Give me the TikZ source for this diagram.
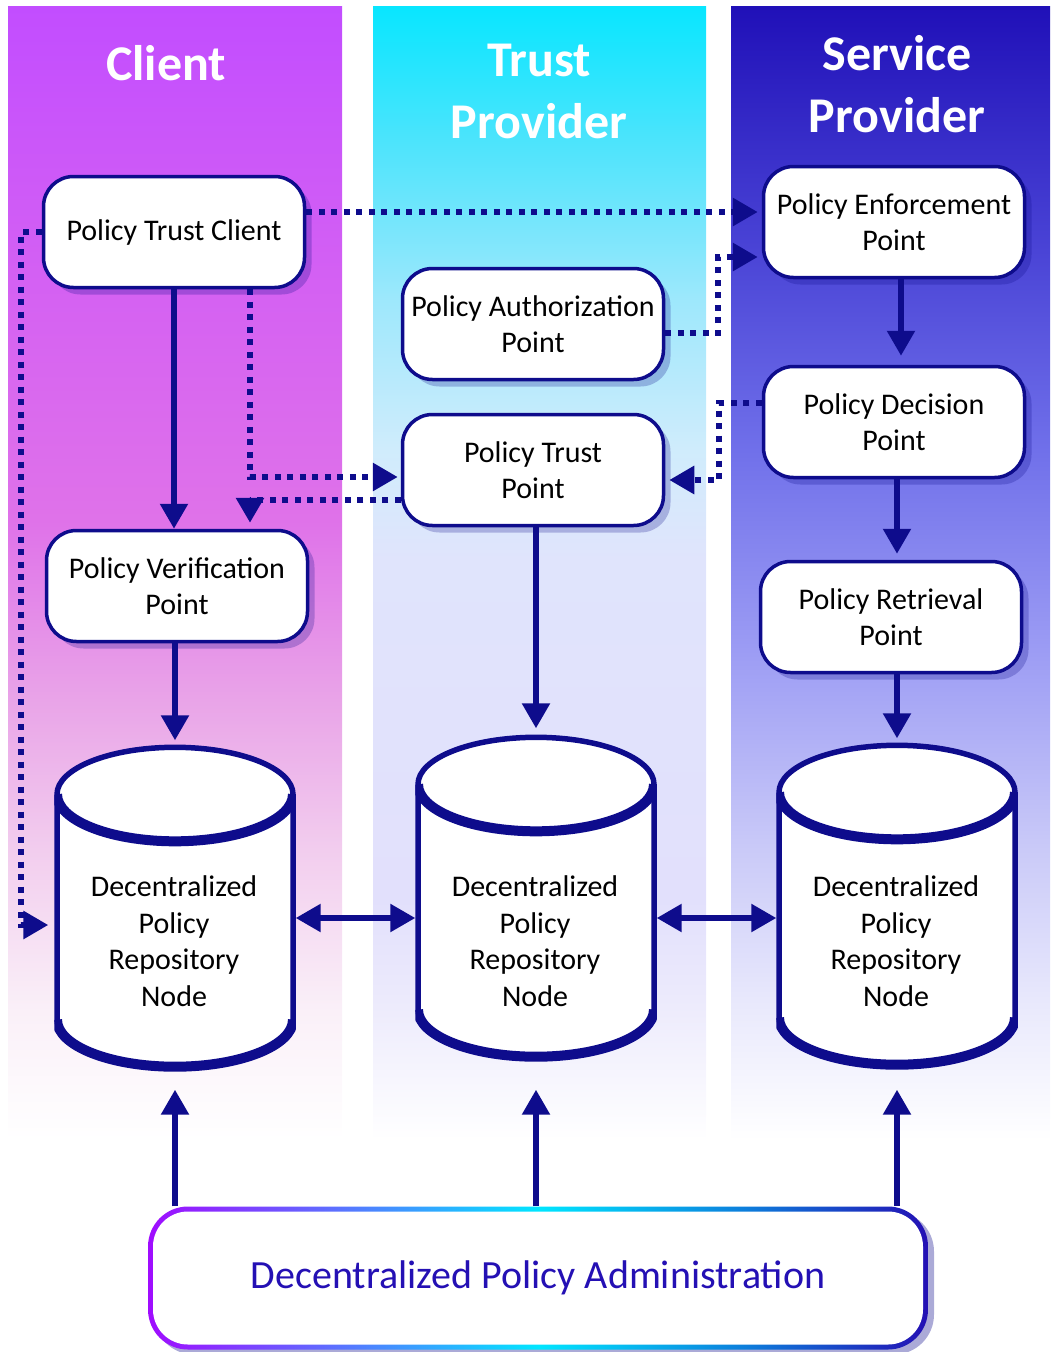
\documentclass[tikz,border=0pt]{standalone}
\usepackage{fontspec}
\setmainfont{Carlito}
\usetikzlibrary{arrows.meta,shadows}

\definecolor{navy}{RGB}{14,12,140}
\definecolor{adminblue}{RGB}{36,16,180}
\definecolor{clA}{RGB}{194,77,255}
\definecolor{clB}{RGB}{213,98,242}
\definecolor{clC}{RGB}{223,114,233}
\definecolor{clD}{RGB}{233,164,232}
\definecolor{clE}{RGB}{242,205,238}
\definecolor{clF}{RGB}{250,240,248}
\definecolor{trA}{RGB}{8,230,255}
\definecolor{trB}{RGB}{80,228,252}
\definecolor{trC}{RGB}{158,232,252}
\definecolor{trD}{RGB}{208,236,252}
\definecolor{trE}{RGB}{224,228,252}
\definecolor{trF}{RGB}{226,224,252}
\definecolor{trG}{RGB}{236,234,252}
\definecolor{svA}{RGB}{32,16,184}
\definecolor{svB}{RGB}{74,68,214}
\definecolor{svC}{RGB}{112,112,234}
\definecolor{svD}{RGB}{156,156,244}
\definecolor{svE}{RGB}{202,202,248}
\definecolor{svF}{RGB}{232,232,252}
\definecolor{rimA}{RGB}{160,12,255}
\definecolor{rimB}{RGB}{92,112,255}
\definecolor{rimC}{RGB}{0,230,255}
\definecolor{rimD}{RGB}{12,128,220}
\definecolor{rimE}{RGB}{36,16,180}

\pgfdeclareverticalshading{clientfade}{100bp}{color(0bp)=(white); color(25bp)=(white);
  color(30.7bp)=(clF); color(37.8bp)=(clE); color(44.4bp)=(clD); color(52.3bp)=(clC);
  color(62bp)=(clB); color(75bp)=(clA); color(100bp)=(clA)}
\pgfdeclareverticalshading{trustfade}{100bp}{color(0bp)=(white); color(25bp)=(white);
  color(31.2bp)=(trG); color(35.6bp)=(trF); color(50.6bp)=(trE); color(55.4bp)=(trD);
  color(62bp)=(trC); color(68.7bp)=(trB); color(75bp)=(trA); color(100bp)=(trA)}
\pgfdeclareverticalshading{servicefade}{100bp}{color(0bp)=(white); color(25bp)=(white);
  color(31.2bp)=(svF); color(37.8bp)=(svE); color(46.6bp)=(svD); color(55.4bp)=(svC);
  color(64.2bp)=(svB); color(75bp)=(svA); color(100bp)=(svA)}
\pgfdeclarehorizontalshading{adminrim}{100bp}{color(0bp)=(rimA); color(25bp)=(rimA);
  color(37bp)=(rimB); color(50bp)=(rimC); color(63bp)=(rimD); color(75bp)=(rimE); color(100bp)=(rimE)}

\pgfdeclarelayer{lanes}
\pgfdeclarelayer{repos}
\pgfsetlayers{lanes,repos,main}

\tikzset{
  lanehead/.style={text=white, align=center, font=\fontsize{50}{62}\selectfont\bfseries},
  pbox/.style={draw=navy, line width=3.5pt, fill=white, rounded corners=30pt,
    minimum width=261pt, minimum height=111pt, inner sep=4pt, align=center,
    font=\fontsize{30}{36.6}\selectfont,
    drop shadow={shadow xshift=7pt, shadow yshift=-7pt, fill=navy, opacity=.25}},
  repo/.style={minimum width=241pt, minimum height=325pt, inner sep=0pt},
  repotext/.style={align=center, font=\fontsize{30}{36.6}\selectfont},
  repoline/.style={draw=navy, line width=5.5pt, fill=white},
  admin/.style={shade, shading=adminrim, rounded corners=40pt,
    minimum width=780pt, minimum height=143pt, text=adminblue,
    font=\fontsize{40}{48}\selectfont,
    drop shadow={shadow xshift=6pt, shadow yshift=-5pt, fill=navy, opacity=.35},
    path picture={\fill[white, rounded corners=35pt]
      ([shift={(5pt,5pt)}]path picture bounding box.south west) rectangle
      ([shift={(-5pt,-5pt)}]path picture bounding box.north east);}},
  flow/.style={draw=navy, line width=5.5pt, -{Triangle[length=25pt,width=27pt]}},
  flowboth/.style={flow, {Triangle[length=25pt,width=27pt]}-{Triangle[length=25pt,width=27pt]}},
  dots/.style={draw=navy, line width=6pt, dash pattern=on 6pt off 6.5pt,
    -{Triangle[length=25pt,width=27pt]}}
}

\begin{document}
\begin{tikzpicture}[x=1pt,y=-1pt]
\useasboundingbox (0,0) rectangle (1052,1352);

\begin{pgfonlayer}{lanes}
\shade[shading=clientfade] (8,6) rectangle (342,1140);
\shade[shading=trustfade] (373,6) rectangle (706,1140);
\shade[shading=servicefade] (731,6) rectangle (1050,1140);
\end{pgfonlayer}

\node[lanehead] (hclient) at (166,63) {Client};
\node[lanehead] (htrust) at (539,91) {Trust\\Provider};
\node[lanehead] (hservice) at (897,84) {Service\\Provider};

\node[pbox] (ptc) at (174,232) {Policy Trust Client};
\node[pbox] (pap) at (533,324) {Policy Authorization\\Point};
\node[pbox] (ptp) at (533,470) {Policy Trust\\Point};
\node[pbox] (pvp) at (177,586) {Policy Verification\\Point};
\node[pbox] (pep) at (894,222) {Policy Enforcement\\Point};
\node[pbox] (pdp) at (894,422) {Policy Decision\\Point};
\node[pbox] (prp) at (891,617) {Policy Retrieval\\Point};

\node[repo] (c1) at (175,907) {};
\node[repo] (c2) at (536,897) {};
\node[repo] (c3) at (897,905) {};

\begin{pgfonlayer}{repos}
\foreach \n in {c1,c2,c3}{
  \filldraw[repoline] ([xshift=-118pt,yshift=-50pt]\n.north) -- ([xshift=-118pt,yshift=50pt]\n.south)
    arc[start angle=180,end angle=360,x radius=118pt,y radius=47pt]
    -- ([xshift=118pt,yshift=-50pt]\n.north)
    arc[start angle=0,end angle=180,x radius=118pt,y radius=47pt] -- cycle;
  \begin{scope}
    \clip ([xshift=-120.75pt,yshift=10pt]\n.north) rectangle ([xshift=120.75pt,yshift=-10pt]\n.south);
    \draw[repoline, line width=10pt, fill=none] ([xshift=-118pt,yshift=-50pt]\n.north)
      arc[start angle=180,end angle=360,x radius=118pt,y radius=47pt];
    \draw[repoline, line width=10pt, fill=none] ([xshift=-118pt,yshift=50pt]\n.south)
      arc[start angle=180,end angle=360,x radius=118pt,y radius=47pt];
  \end{scope}
}
\end{pgfonlayer}

\node[repotext] (t1) at (174,941) {Decentralized\\Policy\\Repository\\Node};
\node[repotext] (t2) at (535,941) {Decentralized\\Policy\\Repository\\Node};
\node[repotext] (t3) at (896,941) {Decentralized\\Policy\\Repository\\Node};

\node[admin] (dpa) at (538,1278) {Decentralized Policy Administration};

\draw[flow] (ptc.south) -- (ptc.south |- pvp.north);
\draw[flow, shorten >=4pt] (c1.north |- pvp.south) -- (c1.north);
\draw[flow, shorten >=6pt] (c2.north |- ptp.south) -- (c2.north);
\draw[flow, shorten >=9pt] ([xshift=7pt]pep.south) -- ([xshift=7pt]pdp.north);
\draw[flow, shorten >=6pt] ([xshift=3pt]pdp.south) -- ([xshift=6pt]prp.north);
\draw[flow, shorten >=4pt] ([xshift=6pt]prp.south) -- (c3.north);
\draw[flowboth] ([yshift=-11pt]c1.east) -- ([yshift=-21pt]c2.west);
\draw[flowboth] ([yshift=-21pt]c2.east) -- ([yshift=-13pt]c3.west);
\draw[flow] (c1.south |- dpa.north) -- ([yshift=-20pt]c1.south);
\draw[flow] (c2.south |- dpa.north) -- ([yshift=-30pt]c2.south);
\draw[flow] (c3.south |- dpa.north) -- ([yshift=-22pt]c3.south);

\draw[dots, shorten >=4pt] ([yshift=20pt]ptc.east) -- ([yshift=10pt]pep.west);
\draw[dots, shorten >=6pt] (ptc.west) -| ([xshift=-33pt,yshift=-18pt]c1.west) -- ([yshift=-18pt]c1.west);
\draw[dots, shorten >=3pt] ([xshift=76pt]ptc.south) |- ([yshift=-7pt]ptp.west);
\draw[dots] ([yshift=-30pt]ptp.west) -| ([xshift=73pt,yshift=6pt]pvp.north);
\draw[dots, shorten >=4pt] ([yshift=-9pt]pap.east) -| ([xshift=-44pt,yshift=-35pt]pep.west) -- ([yshift=-35pt]pep.west);
\draw[dots, shorten >=4pt] ([yshift=19pt]pdp.west) -| ([xshift=54pt,yshift=-10pt]ptp.east) -- ([yshift=-10pt]ptp.east);

\end{tikzpicture}
\end{document}
